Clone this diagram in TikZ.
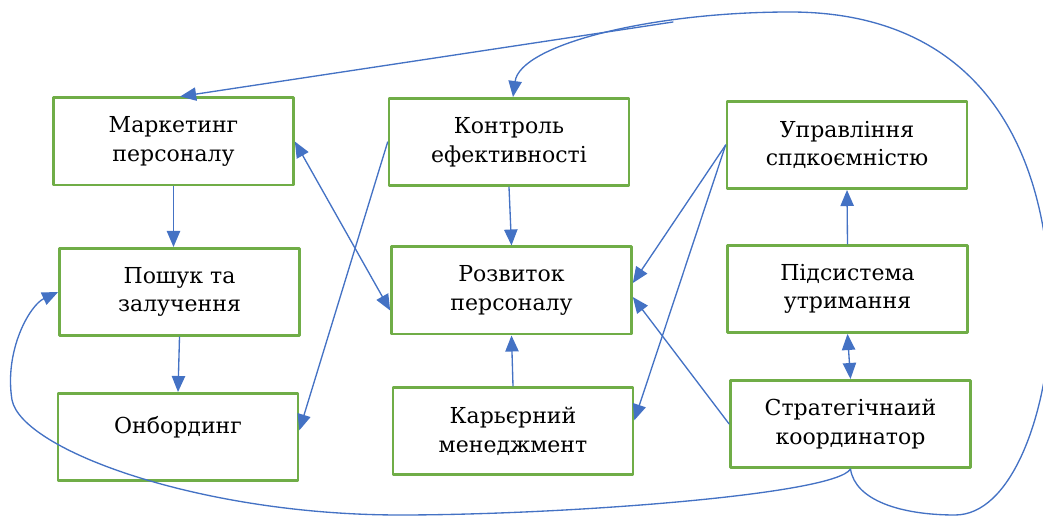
\documentclass[tikz,border=0pt]{standalone}
\usepackage{fontspec}
\setmainfont{DejaVu Serif}
\usetikzlibrary{arrows.meta}
\definecolor{boxgreen}{HTML}{70AD47}
\definecolor{linkblue}{HTML}{4472C4}

\begin{document}
\begin{tikzpicture}[x=0.75pt,y=-0.75pt,>={Triangle[length=12pt,width=10pt]},line cap=round,line join=round,
  box/.style={draw=boxgreen,line width=2pt,fill=white,minimum width=180pt,minimum height=65.5pt,inner sep=0pt,align=center,font=\rmfamily\fontsize{16.5}{21.5}\selectfont},
  link/.style={draw=linkblue,fill=none,line width=1pt}]
\useasboundingbox (0,0) rectangle (1043,516);
\node[box] (mark) at (173.5,141.5) {Маркетинг\\персоналу};
\node[box] (kontr) at (509,142) {Контроль\\ефективності};
\node[box] (upr) at (847,145) {Управління\\спдкоємністю};
\node[box] (posh) at (179.5,292) {Пошук та\\залучення};
\node[box] (rozv) at (511.5,290.5) {Розвиток\\персоналу};
\node[box] (pids) at (847.5,289) {Підсистема\\утримання};
\node[box] (onb) at (178,437) {Онбординг\\[-4pt]\mbox{}};
\node[box] (kar) at (513,431) {Карьєрний\\менеджмент};
\node[box] (strat) at (850.5,424) {Стратегічнаий\\координатор};
\coordinate (fork) at (673,22);
\draw[link,->] (mark.south) -- (mark.south |- posh.north);
\draw[link,->] (posh.south) -- (onb.north);
\draw[link,->] (kontr.south) -- (rozv.north);
\draw[link,->] (kar.north) -- (rozv.south);
\draw[link,->] (pids.north) -- (upr.south);
\draw[link,<->] (pids.south) -- (strat.north);
\draw[link,<->] (mark.east) -- ([yshift=-15pt]rozv.west);
\draw[link,->] (kontr.west) -- ([yshift=5pt]onb.east);
\draw[link,->] (upr.west) -- ([yshift=5.6pt]rozv.east);
\draw[link,->] (upr.west) -- ([yshift=8pt]kar.east);
\draw[link,->] (strat.west) -- ([yshift=-4.9pt]rozv.east);
% loop round the right side up to the top
\draw[link,->] (strat.south) .. controls (855,500) and (900,515) .. (955,515)
  .. controls (1010,515) and (1045,420) .. (1050,330)
  .. controls (1055,150) and (980,12) .. (790,12)
  .. controls (650,12) and (520,45) .. ([xshift=3pt]kontr.north);
\draw[link,->] (fork) -- ([xshift=5pt]mark.north);
% loop along the bottom to the left side
\draw[link,->] (strat.south) .. controls (835,495) and (560,515) .. (400,515)
  .. controls (200,515) and (22,450) .. (12,400)
  .. controls (4,350) and (30,305) .. (posh.west);
\end{tikzpicture}
\end{document}
